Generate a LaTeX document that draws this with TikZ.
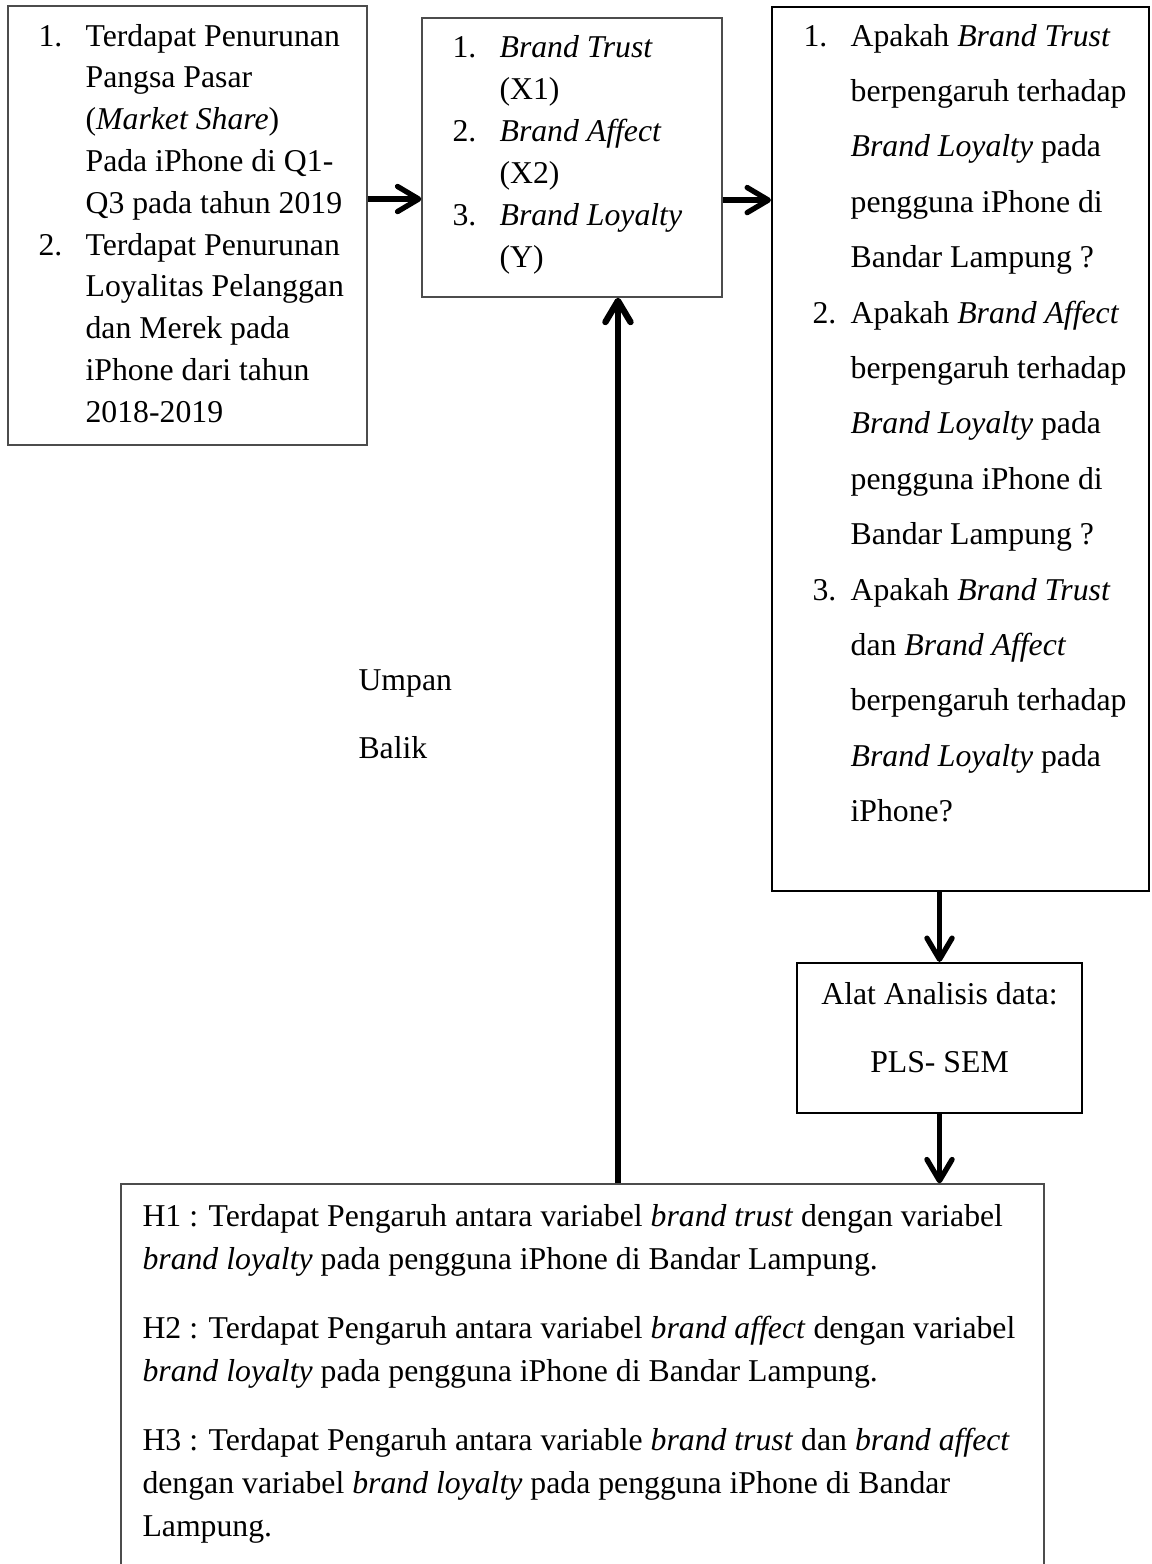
\documentclass[tikz,border=0pt]{standalone}
\usepackage{fontspec}
\setmainfont{Liberation Serif}
\usetikzlibrary{arrows.meta, positioning}
\newlength{\butirw}
\setlength{\butirw}{17.8pt}
\newcommand{\butir}[1]{\makebox[\butirw][l]{#1}}
\newcommand{\lanjut}{\hspace*{\butirw}}
\tikzset{
  kotak/.style={rectangle, draw=black!70, line width=0.5pt, inner sep=0pt},
  kotaktebal/.style={rectangle, draw=black, line width=0.8pt, inner sep=0pt},
  teks/.style={inner sep=0pt, align=left, anchor=base west},
  panah/.style={-{Straight Barb[length=8pt,width=9.5pt,round]}, line width=2pt},
}
\begin{document}
\begin{tikzpicture}[x=0.378pt, y=-0.378pt]
\useasboundingbox (0,0) rectangle (1151,1564);

% latar belakang masalah (base = baris terakhir)
\node[kotak, minimum width=135.7pt, minimum height=165.9pt] (masalah) at (187.5,225.5) {};
\node[teks, font=\fontsize{12}{15.8}\selectfont] (masalahteks) at (38,422.2) {%
  \butir{1.}Terdapat Penurunan\\
  \lanjut Pangsa Pasar\\
  \lanjut (\textit{Market Share})\\
  \lanjut Pada iPhone di Q1-\\
  \lanjut Q3 pada tahun 2019\\
  \butir{2.}Terdapat Penurunan\\
  \lanjut Loyalitas Pelanggan\\
  \lanjut dan Merek pada\\
  \lanjut iPhone dari tahun\\
  \lanjut 2018-2019};

% variabel penelitian
\node[kotak, minimum width=113.4pt, minimum height=105.5pt] (variabel) at (572,157.5) {};
\node[teks, font=\fontsize{12}{15.9}\selectfont] (variabelteks) at (452,268) {%
  \butir{1.}\textit{Brand Trust}\\
  \lanjut (X1)\\
  \butir{2.}\textit{Brand Affect}\\
  \lanjut (X2)\\
  \butir{3.}\textit{Brand Loyalty}\\
  \lanjut (Y)};

% rumusan masalah
\node[kotaktebal, minimum width=142.5pt, minimum height=334.2pt] (rumusan) at (960.5,449) {};
\node[teks, font=\fontsize{12}{20.94}\selectfont] (rumusanteks) at (803,821.6) {%
  \butir{1.}Apakah \textit{Brand Trust}\\
  \lanjut berpengaruh terhadap\\
  \lanjut \textit{Brand Loyalty} pada\\
  \lanjut pengguna iPhone di\\
  \lanjut Bandar Lampung ?\\
  \butir{\hspace{3.4pt}2.}Apakah \textit{Brand Affect}\\
  \lanjut berpengaruh terhadap\\
  \lanjut \textit{Brand Loyalty} pada\\
  \lanjut pengguna iPhone di\\
  \lanjut Bandar Lampung ?\\
  \butir{\hspace{3.4pt}3.}Apakah \textit{Brand Trust}\\
  \lanjut dan \textit{Brand Affect}\\
  \lanjut berpengaruh terhadap\\
  \lanjut \textit{Brand Loyalty} pada\\
  \lanjut iPhone?};

% alat analisis
\node[kotaktebal, minimum width=107.7pt, minimum height=56.7pt] (alat) at (939.5,1038) {};
\node[inner sep=0pt, align=center, anchor=base, font=\fontsize{12}{25.7}\selectfont] (alatteks) at (939.5,1072) {Alat Analisis data:\\PLS- SEM};

% hipotesis
\node[kotak, minimum width=348.9pt, minimum height=149.7pt] (hipotesis) at (582.5,1382) {};
\node[teks, font=\fontsize{12}{16.25}\selectfont] (hipotesisteks) at (142,1536) {%
  H1 : Terdapat Pengaruh antara variabel \textit{brand trust} dengan variabel\\
  \textit{brand loyalty} pada pengguna iPhone di Bandar Lampung.\\[9.8pt]
  H2 : Terdapat Pengaruh antara variabel \textit{brand affect} dengan variabel\\
  \textit{brand loyalty} pada pengguna iPhone di Bandar Lampung.\\[9.8pt]
  H3 : Terdapat Pengaruh antara variable \textit{brand trust} dan \textit{brand affect}\\
  dengan variabel \textit{brand loyalty} pada pengguna iPhone di Bandar\\
  Lampung.};

\node[teks, font=\fontsize{12}{25.7}\selectfont] (umpan) at (358,758) {Umpan\\Balik};

% panah
\draw[panah] ([yshift=-15.7pt]variabel.west -| masalah.east) -- ([yshift=-15.7pt]variabel.west);
\draw[panah] ([yshift=-16.1pt]variabel.east) -- ([yshift=-16.1pt]variabel.east -| rumusan.west);
\draw[panah] (rumusan.south -| alat.north) -- (alat.north);
\draw[panah] (alat.south) -- (alat.south |- hipotesis.north);
\draw[panah, line width=2.4pt] ([xshift=13.4pt]hipotesis.north) -- ([xshift=13.4pt]hipotesis.north |- variabel.south);
\end{tikzpicture}
\end{document}
